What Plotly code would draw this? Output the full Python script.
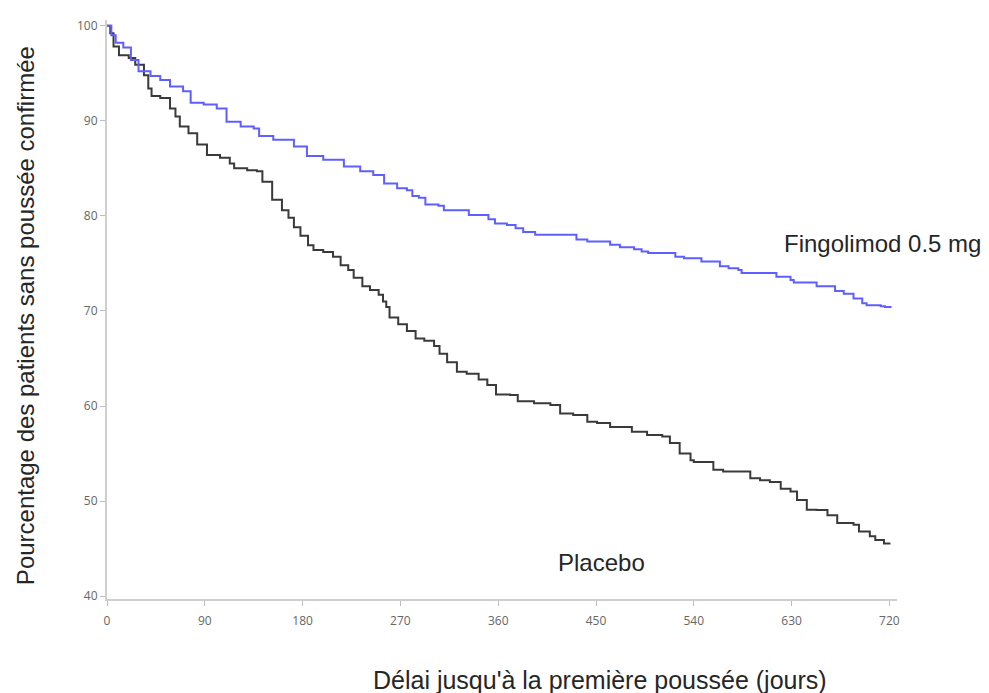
import plotly.graph_objects as go

# Kaplan-Meier curves (days, % free of confirmed relapse)
fingo_days = [0, 4, 8, 15, 22, 29, 40, 49, 58, 70, 77, 89, 101, 110, 123, 135, 140, 153,
              172, 184, 199, 218, 233, 245, 255, 267, 276, 281, 287, 293, 305, 310, 333,
              351, 357, 368, 376, 383, 394, 432, 442, 463, 472, 485, 492, 498, 523, 531,
              547, 564, 572, 581, 584, 616, 629, 632, 653, 670, 678, 687, 695, 699, 712,
              716, 722]
fingo_vals = [100, 99.0, 98.2, 97.7, 96.4, 95.2, 94.7, 94.3, 93.6, 93.1, 91.9, 91.7, 91.3,
              89.9, 89.4, 89.2, 88.4, 88.0, 87.3, 86.3, 85.9, 85.2, 84.7, 84.3, 83.4, 82.9,
              82.7, 82.1, 81.9, 81.2, 81.05, 80.6, 80.1, 79.65, 79.2, 79.05, 78.7, 78.3,
              78.0, 77.5, 77.3, 76.95, 76.7, 76.5, 76.25, 76.1, 75.7, 75.55, 75.2, 74.7,
              74.5, 74.3, 74.0, 73.6, 73.25, 73.0, 72.6, 72.1, 71.8, 71.3, 70.8, 70.6,
              70.5, 70.4, 70.4]

placebo_days = [0, 3, 6, 11, 20, 26, 34, 38, 41, 49, 58, 63, 67, 75, 83, 92, 104, 113, 117,
                129, 138, 143, 152, 161, 167, 172, 178, 185, 190, 199, 208, 215, 222, 227,
                235, 242, 250, 254, 257, 260, 268, 276, 284, 292, 301, 306, 313, 322, 331,
                342, 350, 358, 371, 378, 393, 408, 417, 429, 442, 451, 463, 483, 497, 511,
                518, 527, 537, 540, 558, 567, 592, 601, 610, 620, 629, 635, 644, 653, 663,
                672, 687, 692, 702, 707, 715, 721]
placebo_vals = [100, 99.2, 97.8, 96.9, 96.6, 95.9, 94.8, 93.4, 92.6, 92.4, 91.3, 90.45,
                89.4, 88.7, 87.5, 86.4, 86.1, 85.5, 85.0, 84.8, 84.7, 83.6, 81.7, 80.6,
                79.8, 78.8, 77.9, 76.9, 76.4, 76.2, 75.7, 74.8, 74.3, 73.5, 72.6, 72.2,
                71.7, 71.0, 70.4, 69.3, 68.6, 67.9, 67.1, 66.85, 66.3, 65.5, 64.6, 63.6,
                63.4, 62.8, 62.2, 61.2, 61.15, 60.5, 60.3, 60.1, 59.2, 59.05, 58.35, 58.2,
                57.8, 57.3, 56.95, 56.8, 56.1, 55.0, 54.3, 54.1, 53.3, 53.1, 52.4, 52.2,
                52.0, 51.3, 51.0, 50.1, 49.1, 49.05, 48.5, 47.7, 47.5, 46.8, 46.3, 45.9,
                45.55, 45.55]

x_ticks = [0, 90, 180, 270, 360, 450, 540, 630, 720]
y_ticks = [40, 50, 60, 70, 80, 90, 100]

label_fingo = "Fingolimod 0.5 mg"
label_placebo = "Placebo"
x_title = "Délai jusqu'à la première poussée (jours)"
y_title = "Pourcentage des patients sans poussée confirmée"

fig = go.Figure()
fig.add_trace(go.Scatter(x=placebo_days, y=placebo_vals, mode="lines",
                         line=dict(color="#3a3a3a", width=2, shape="hv"),
                         name=label_placebo, showlegend=False))
fig.add_trace(go.Scatter(x=fingo_days, y=fingo_vals, mode="lines",
                         line=dict(color="#5f5fff", width=2, shape="hv"),
                         name=label_fingo, showlegend=False))

txt_font = dict(family="Liberation Sans, Arial, sans-serif", size=24, color="#262626")
xt_font = dict(family="Liberation Sans, Arial, sans-serif", size=25, color="#262626")

fig.add_annotation(x=621, y=77.1, xref="x", yref="y", text=label_fingo, showarrow=False,
                   xanchor="left", yanchor="middle", font=txt_font)
fig.add_annotation(x=413, y=43.5, xref="x", yref="y", text=label_placebo, showarrow=False,
                   xanchor="left", yanchor="middle", font=txt_font)
fig.add_annotation(x=454, y=-0.14, xref="x", yref="paper", text=x_title, showarrow=False,
                   xanchor="center", yanchor="middle", font=xt_font)
fig.add_annotation(x=-0.104, y=0.49, xref="paper", yref="paper", text=y_title,
                   showarrow=False, textangle=-90, xanchor="center", yanchor="middle",
                   font=txt_font)

tick_font = dict(family="Open Sans, sans-serif", size=12, color="#666666")
fig.update_xaxes(range=[0, 727], tickvals=x_ticks, ticktext=[str(v) for v in x_ticks],
                 showgrid=False, zeroline=False, showline=True, linecolor="#cfcfcf",
                 linewidth=2, ticks="outside", ticklen=5, tickcolor="#bdbdbd",
                 tickwidth=1, tickfont=tick_font, ticklabelstandoff=5, automargin=False)
fig.update_yaxes(range=[39.7, 100.6], tickvals=y_ticks, ticktext=[str(v) for v in y_ticks],
                 showgrid=False, zeroline=False, showline=True, linecolor="#cfcfcf",
                 linewidth=2, ticks="outside", ticklen=5, tickcolor="#bdbdbd",
                 tickwidth=1, tickfont=tick_font, automargin=False)

# the page body adds an 8 px offset, so the figure is made 8 px smaller on each side
fig.update_layout(width=981, height=685, plot_bgcolor="white", paper_bgcolor="white",
                  margin=dict(l=99, r=92, t=12, b=94), showlegend=False)

fig.write_html("out.html")
